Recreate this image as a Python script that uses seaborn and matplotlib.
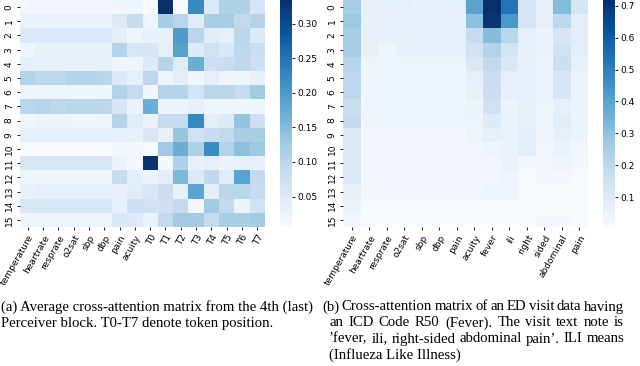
import numpy as np
import matplotlib
matplotlib.use("Agg")
import matplotlib.pyplot as plt
import seaborn as sns

# left panel: average cross-attention, 4th perceiver block
left_cols = ["temperature", "heartrate", "resprate", "o2sat", "sbp", "dbp", "pain", "acuity",
             "T0", "T1", "T2", "T3", "T4", "T5", "T6", "T7"]
left_vals = [
    [0.013, 0.013, 0.013, 0.013, 0.013, 0.013, 0.019, 0.019, 0.006, 0.334, 0.008, 0.223, 0.049, 0.111, 0.111, 0.063],
    [0.029, 0.029, 0.029, 0.029, 0.029, 0.029, 0.050, 0.085, 0.021, 0.122, 0.100, 0.044, 0.120, 0.120, 0.093, 0.105],
    [0.052, 0.052, 0.052, 0.052, 0.052, 0.052, 0.040, 0.021, 0.032, 0.032, 0.198, 0.102, 0.044, 0.036, 0.100, 0.050],
    [0.022, 0.031, 0.031, 0.031, 0.031, 0.031, 0.105, 0.058, 0.060, 0.037, 0.188, 0.049, 0.072, 0.055, 0.098, 0.082],
    [0.037, 0.037, 0.037, 0.037, 0.037, 0.037, 0.021, 0.021, 0.050, 0.104, 0.045, 0.170, 0.077, 0.082, 0.095, 0.074],
    [0.108, 0.098, 0.098, 0.108, 0.108, 0.100, 0.052, 0.037, 0.097, 0.021, 0.040, 0.018, 0.037, 0.021, 0.021, 0.035],
    [0.018, 0.021, 0.021, 0.021, 0.021, 0.021, 0.108, 0.088, 0.018, 0.105, 0.105, 0.066, 0.100, 0.100, 0.088, 0.124],
    [0.100, 0.104, 0.095, 0.100, 0.100, 0.098, 0.060, 0.028, 0.170, 0.026, 0.026, 0.034, 0.021, 0.021, 0.021, 0.021],
    [0.021, 0.024, 0.024, 0.021, 0.021, 0.021, 0.105, 0.045, 0.029, 0.088, 0.088, 0.223, 0.040, 0.052, 0.137, 0.075],
    [0.037, 0.037, 0.037, 0.037, 0.037, 0.037, 0.037, 0.031, 0.056, 0.031, 0.135, 0.072, 0.085, 0.093, 0.117, 0.117],
    [0.006, 0.006, 0.006, 0.006, 0.006, 0.006, 0.013, 0.013, 0.009, 0.128, 0.170, 0.111, 0.218, 0.108, 0.144, 0.130],
    [0.058, 0.058, 0.058, 0.058, 0.058, 0.058, 0.028, 0.014, 0.330, 0.011, 0.110, 0.031, 0.037, 0.028, 0.031, 0.031],
    [0.021, 0.021, 0.021, 0.021, 0.021, 0.021, 0.088, 0.039, 0.029, 0.040, 0.155, 0.052, 0.094, 0.045, 0.187, 0.090],
    [0.031, 0.037, 0.037, 0.037, 0.037, 0.037, 0.033, 0.044, 0.056, 0.082, 0.033, 0.186, 0.039, 0.100, 0.100, 0.088],
    [0.058, 0.058, 0.058, 0.058, 0.058, 0.058, 0.037, 0.074, 0.071, 0.075, 0.090, 0.015, 0.126, 0.092, 0.024, 0.071],
    [0.021, 0.021, 0.021, 0.021, 0.021, 0.021, 0.058, 0.049, 0.028, 0.090, 0.124, 0.124, 0.088, 0.118, 0.118, 0.124],
]

# right panel: one ED visit, ICD R50 (fever)
right_cols = ["temperature", "heartrate", "resprate", "o2sat", "sbp", "dbp", "pain", "acuity",
              "fever", "ili", "right", "sided", "abdominal", "pain"]
right_vals = [
    [0.251, 0.059, 0.074, 0.074, 0.059, 0.059, 0.074, 0.398, 0.718, 0.533, 0.123, 0.066, 0.320, 0.123],
    [0.273, 0.059, 0.059, 0.059, 0.059, 0.059, 0.059, 0.305, 0.700, 0.433, 0.123, 0.062, 0.205, 0.081],
    [0.253, 0.059, 0.059, 0.059, 0.059, 0.059, 0.059, 0.184, 0.312, 0.212, 0.074, 0.056, 0.123, 0.081],
    [0.253, 0.059, 0.038, 0.059, 0.059, 0.059, 0.059, 0.145, 0.227, 0.134, 0.074, 0.056, 0.148, 0.081],
    [0.220, 0.038, 0.038, 0.038, 0.038, 0.038, 0.038, 0.109, 0.195, 0.109, 0.066, 0.049, 0.170, 0.066],
    [0.198, 0.038, 0.038, 0.038, 0.038, 0.038, 0.038, 0.074, 0.170, 0.074, 0.074, 0.045, 0.123, 0.049],
    [0.205, 0.038, 0.038, 0.038, 0.038, 0.038, 0.038, 0.062, 0.165, 0.062, 0.074, 0.045, 0.123, 0.049],
    [0.173, 0.038, 0.038, 0.038, 0.038, 0.038, 0.038, 0.049, 0.148, 0.049, 0.062, 0.038, 0.074, 0.049],
    [0.188, 0.038, 0.038, 0.038, 0.038, 0.038, 0.038, 0.042, 0.099, 0.056, 0.072, 0.038, 0.088, 0.045],
    [0.106, 0.020, 0.020, 0.020, 0.020, 0.020, 0.020, 0.040, 0.066, 0.056, 0.085, 0.038, 0.066, 0.045],
    [0.106, 0.020, 0.020, 0.020, 0.020, 0.020, 0.020, 0.031, 0.038, 0.056, 0.085, 0.031, 0.052, 0.031],
    [0.106, 0.020, 0.020, 0.020, 0.020, 0.020, 0.020, 0.020, 0.031, 0.052, 0.020, 0.031, 0.038, 0.020],
    [0.106, 0.020, 0.020, 0.020, 0.020, 0.020, 0.020, 0.020, 0.020, 0.038, 0.013, 0.025, 0.025, 0.013],
    [0.074, 0.020, 0.020, 0.020, 0.020, 0.020, 0.020, 0.031, 0.038, 0.042, 0.013, 0.013, 0.013, 0.013],
    [0.045, 0.013, 0.013, 0.013, 0.013, 0.013, 0.013, 0.013, 0.013, 0.013, 0.013, 0.013, 0.013, 0.013],
    [0.031, 0.013, 0.013, 0.013, 0.013, 0.013, 0.013, 0.006, 0.006, 0.006, 0.006, 0.020, 0.020, 0.006],
]

caption_a = ["(a) Average cross-attention matrix from the 4th (last)",
             "Perceiver block. T0-T7 denote token position."]
caption_b = ["(b) Cross-attention matrix of an ED visit data having",
             "an ICD Code R50 (Fever).  The visit text note is",
             "\u2019fever, ili, right-sided abdominal pain\u2019.  ILI means",
             "(Influeza Like Illness)"]

W, H = 640, 366
fig = plt.figure(figsize=(W / 100, H / 100), dpi=100)
renderer = fig.canvas.get_renderer()


def box(x0, y0, x1, y1):
    # pixel box -> figure fraction rect
    return [x0 / W, 1 - y1 / H, (x1 - x0) / W, (y1 - y0) / H]


def draw(data, cols, ax_box, cb_box):
    ax = fig.add_axes(box(*ax_box))
    cax = fig.add_axes(box(*cb_box))
    sns.heatmap(np.array(data), cmap="Blues", ax=ax, cbar_ax=cax,
                xticklabels=cols, yticklabels=[str(i) for i in range(len(data))])
    ax.set_xticklabels(cols, rotation=60, ha="right", rotation_mode="anchor", fontsize=6.5)
    ax.set_yticklabels(ax.get_yticklabels(), rotation=90, va="center", fontsize=6.5)
    ax.tick_params(length=2.5, width=0.6, pad=2)
    cax.tick_params(labelsize=6.5, length=2.5, width=0.6, pad=1.5)
    return ax


draw(left_vals, left_cols, (20, 0, 265, 227), (280, 0, 292, 227))
draw(right_vals, right_cols, (343, 0, 588, 227), (603, 0, 615, 227))

serif = ["Liberation Serif", "DejaVu Serif"]
fs = 10.6


def caption_line(text, x0, y, x1=None):
    # plain left aligned line, or word-justified between x0 and x1 (pixels)
    if x1 is None:
        fig.text(x0 / W, 1 - y / H, text, family=serif, fontsize=fs, va="center", ha="left")
        return
    words = text.split()
    items = [fig.text(0, 1 - y / H, w, family=serif, fontsize=fs, va="center", ha="left") for w in words]
    widths = [t.get_window_extent(renderer).width for t in items]
    gap = (x1 - x0 - sum(widths)) / (len(words) - 1)
    x = x0
    for t, w in zip(items, widths):
        t.set_x(x / W)
        x += w + gap


caption_line(caption_a[0], 1, 307)
caption_line(caption_a[1], 1, 323)
caption_line(caption_b[0], 322, 307, 624)
caption_line(caption_b[1], 329, 323, 624)
caption_line(caption_b[2], 329, 339, 624)
caption_line(caption_b[3], 329, 355)

fig.savefig("out.png", dpi=100)
